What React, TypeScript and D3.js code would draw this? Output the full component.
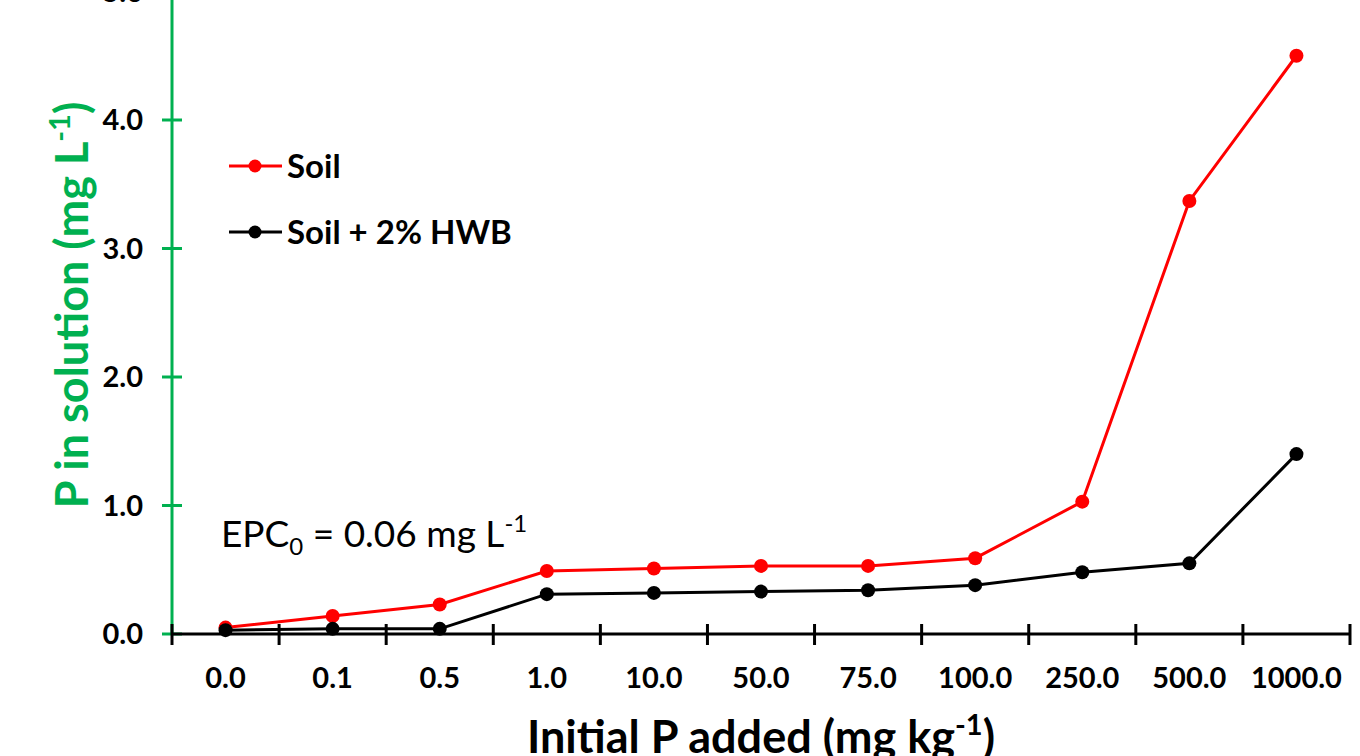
import React from "react";
import * as d3 from "d3";

const categories = ["0.0", "0.1", "0.5", "1.0", "10.0", "50.0", "75.0", "100.0", "250.0", "500.0", "1000.0"];
const soil = [0.05, 0.14, 0.23, 0.49, 0.51, 0.53, 0.53, 0.59, 1.03, 3.37, 4.5];
const soilHwb = [0.03, 0.04, 0.04, 0.31, 0.32, 0.33, 0.34, 0.38, 0.48, 0.55, 1.4];
const yTicks = [0, 1, 2, 3, 4, 5];

const W = 1360;
const H = 756;
const FONT = "Lato, 'Open Sans', sans-serif";
const GREEN = "#00B050";

export default function App() {
  const x = d3.scaleBand<string>().domain(categories).range([172, 1350]).padding(0);
  const y = d3.scaleLinear().domain([0, 5]).range([634, -8.5]);
  const cx = (c: string) => (x(c) as number) + x.bandwidth() / 2;
  const line = d3
    .line<number>()
    .x((_, i) => cx(categories[i]))
    .y((d) => y(d));

  const series = [
    { name: "Soil", values: soil, color: "#FF0000", ly: 166 },
    { name: "Soil + 2% HWB", values: soilHwb, color: "#000000", ly: 232 },
  ];

  const boundaries = categories.map((c) => x(c) as number).concat([1350]);

  return (
    <svg width={W} height={H} style={{ position: "absolute", left: 0, top: 0, background: "#fff" }} fontFamily={FONT}>
      {/* Y axis */}
      <line x1={172} x2={172} y1={0} y2={634} stroke={GREEN} strokeWidth={3} />
      {yTicks.map((t) => (
        <g key={t}>
          <line x1={162} x2={182} y1={y(t)} y2={y(t)} stroke={GREEN} strokeWidth={3} />
          <text x={143} y={y(t)} dy="0.36em" textAnchor="end" fontSize={29} fontWeight="bold" fill="#000">
            {t.toFixed(1)}
          </text>
        </g>
      ))}
      {/* X axis */}
      <line x1={172} x2={1350} y1={634} y2={634} stroke="#000" strokeWidth={3} />
      {boundaries.map((b, i) => (
        <line key={i} x1={b} x2={b} y1={624} y2={645} stroke="#000" strokeWidth={3} />
      ))}
      {categories.map((c) => (
        <text key={c} x={cx(c)} y={688} textAnchor="middle" fontSize={29} fontWeight="bold" fill="#000">
          {c}
        </text>
      ))}
      {/* Series */}
      {series.map((s) => (
        <g key={s.name}>
          <path d={line(s.values) || ""} fill="none" stroke={s.color} strokeWidth={3} />
          {s.values.map((v, i) => (
            <circle key={i} cx={cx(categories[i])} cy={y(v)} r={7} fill={s.color} />
          ))}
        </g>
      ))}
      {/* Legend */}
      {series.map((s) => (
        <g key={"lg" + s.name}>
          <line x1={229} x2={282} y1={s.ly} y2={s.ly} stroke={s.color} strokeWidth={3} />
          <circle cx={255} cy={s.ly} r={6.5} fill={s.color} />
          <text x={287} y={s.ly} dy="0.36em" fontSize={33} fontWeight="bold" fill="#000">
            {s.name}
          </text>
        </g>
      ))}
      {/* EPC annotation */}
      <text x={221} y={547} fontSize={37} fill="#000">
        EPC
        <tspan fontSize={24} dy={8}>0</tspan>
        <tspan dy={-8}> = 0.06 mg L</tspan>
        <tspan fontSize={24} dy={-15}>-1</tspan>
      </text>
      {/* Axis titles */}
      <text x={761} y={753} textAnchor="middle" fontSize={45} fontWeight="bold" fill="#000">
        Initial P added (mg kg
        <tspan fontSize={29} dy={-18}>-1</tspan>
        <tspan dy={18}>)</tspan>
      </text>
      <text
        transform="translate(88,305) rotate(-90)"
        textAnchor="middle"
        fontSize={45}
        fontWeight="bold"
        fill={GREEN}
      >
        P in solution (mg L
        <tspan fontSize={29} dy={-18}>-1</tspan>
        <tspan dy={18}>)</tspan>
      </text>
    </svg>
  );
}
